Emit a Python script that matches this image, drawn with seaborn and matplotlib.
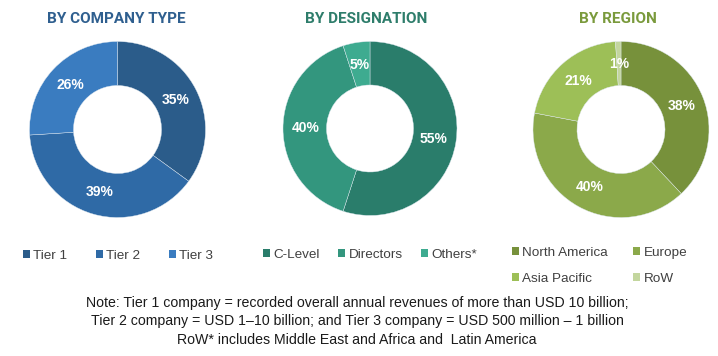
import numpy as np
import matplotlib
matplotlib.use("Agg")
import matplotlib.pyplot as plt
import seaborn as sns

# data
company_labels = ["Tier 1", "Tier 2", "Tier 3"]
company_share = [35, 39, 26]
designation_labels = ["C-Level", "Directors", "Others*"]
designation_share = [55, 40, 5]
region_labels = ["North America", "Europe", "Asia Pacific", "RoW"]
region_share = [38, 40, 21, 1]

titles = ["BY COMPANY TYPE", "BY DESIGNATION", "BY REGION"]
notes = [
    "Note: Tier 1 company = recorded overall annual revenues of more than USD 10 billion;",
    "Tier 2 company = USD 1\u201310 billion; and Tier 3 company = USD 500 million \u2013 1 billion",
    "RoW* includes Middle East and Africa and  Latin America",
]

sns.set_theme(style="white")
plt.rcParams["font.family"] = ["Liberation Sans", "DejaVu Sans"]

blues = sns.color_palette(["#2b5c8a", "#2f6aa6", "#3a7cc0"])
greens = sns.color_palette(["#2a7d6b", "#33967e", "#3eab90"])
olives = sns.color_palette(["#77913b", "#8ba94a", "#9dbf57", "#c3d69e"])
title_cols = ["#2f5f8f", "#2e7d6b", "#7a9a3c"]

W, H = 718, 356
fig = plt.figure(figsize=(W / 100, H / 100), dpi=100)
fig.patch.set_facecolor("white")


def px_axes(cx, cy, r):
    return fig.add_axes([(cx - r) / W, (H - cy - r) / H, 2 * r / W, 2 * r / H])


panels = [
    (company_share, company_labels, blues, (117.5, 129.5, 88), None, 3, 2.15),
    (designation_share, designation_labels, greens, (370, 128.5, 87), None, 3, 1.4),
    (region_share, region_labels, olives, (621, 129.5, 88), [0, 2, 1, 3], 2, 1.9),
]
legend_pos = [(23, 256), (263, 255), (512, 266)]
title_x = [116, 366, 618]

for i, (vals, labs, cols, (cx, cy, r), order, ncol, cs) in enumerate(panels):
    ax = px_axes(cx, cy, r)
    wedges, _, autotexts = ax.pie(
        vals, colors=cols, startangle=90, counterclock=False,
        autopct="%.0f%%", pctdistance=0.74,
        wedgeprops=dict(width=0.5, edgecolor="#dfe8f0", linewidth=0.3),
    )
    for t in autotexts:
        t.set_color("white")
        t.set_fontsize(10)
        t.set_fontweight("bold")
    ax.set_xlim(-1, 1)
    ax.set_ylim(-1, 1)
    ax.set_aspect("equal")
    ax.axis("off")

    fig.text(title_x[i] / W, 1 - 19 / H, titles[i], ha="center", va="center",
             fontsize=11, fontweight="bold", color=title_cols[i],
             family=["Roboto", "DejaVu Sans"])

    idx = order if order else list(range(len(labs)))
    lx, ly = legend_pos[i]
    leg = fig.legend([wedges[k] for k in idx], [labs[k] for k in idx],
                     loc="center left", bbox_to_anchor=(lx / W, 1 - ly / H),
                     ncol=ncol, frameon=False, fontsize=9.7,
                     handlelength=0.5, handleheight=0.5, handletextpad=0.25,
                     columnspacing=cs, labelspacing=1.05,
                     borderpad=0, borderaxespad=0)
    for t in leg.get_texts():
        t.set_color("#404040")
    for h in leg.legend_handles:
        h.set_edgecolor("none")

for y, line in zip([303, 321, 340], notes):
    fig.text(357 / W, 1 - y / H, line, ha="center", va="center",
             fontsize=10.2, color="#1a1a1a")

plt.savefig("out.png", dpi=100, facecolor="white")
